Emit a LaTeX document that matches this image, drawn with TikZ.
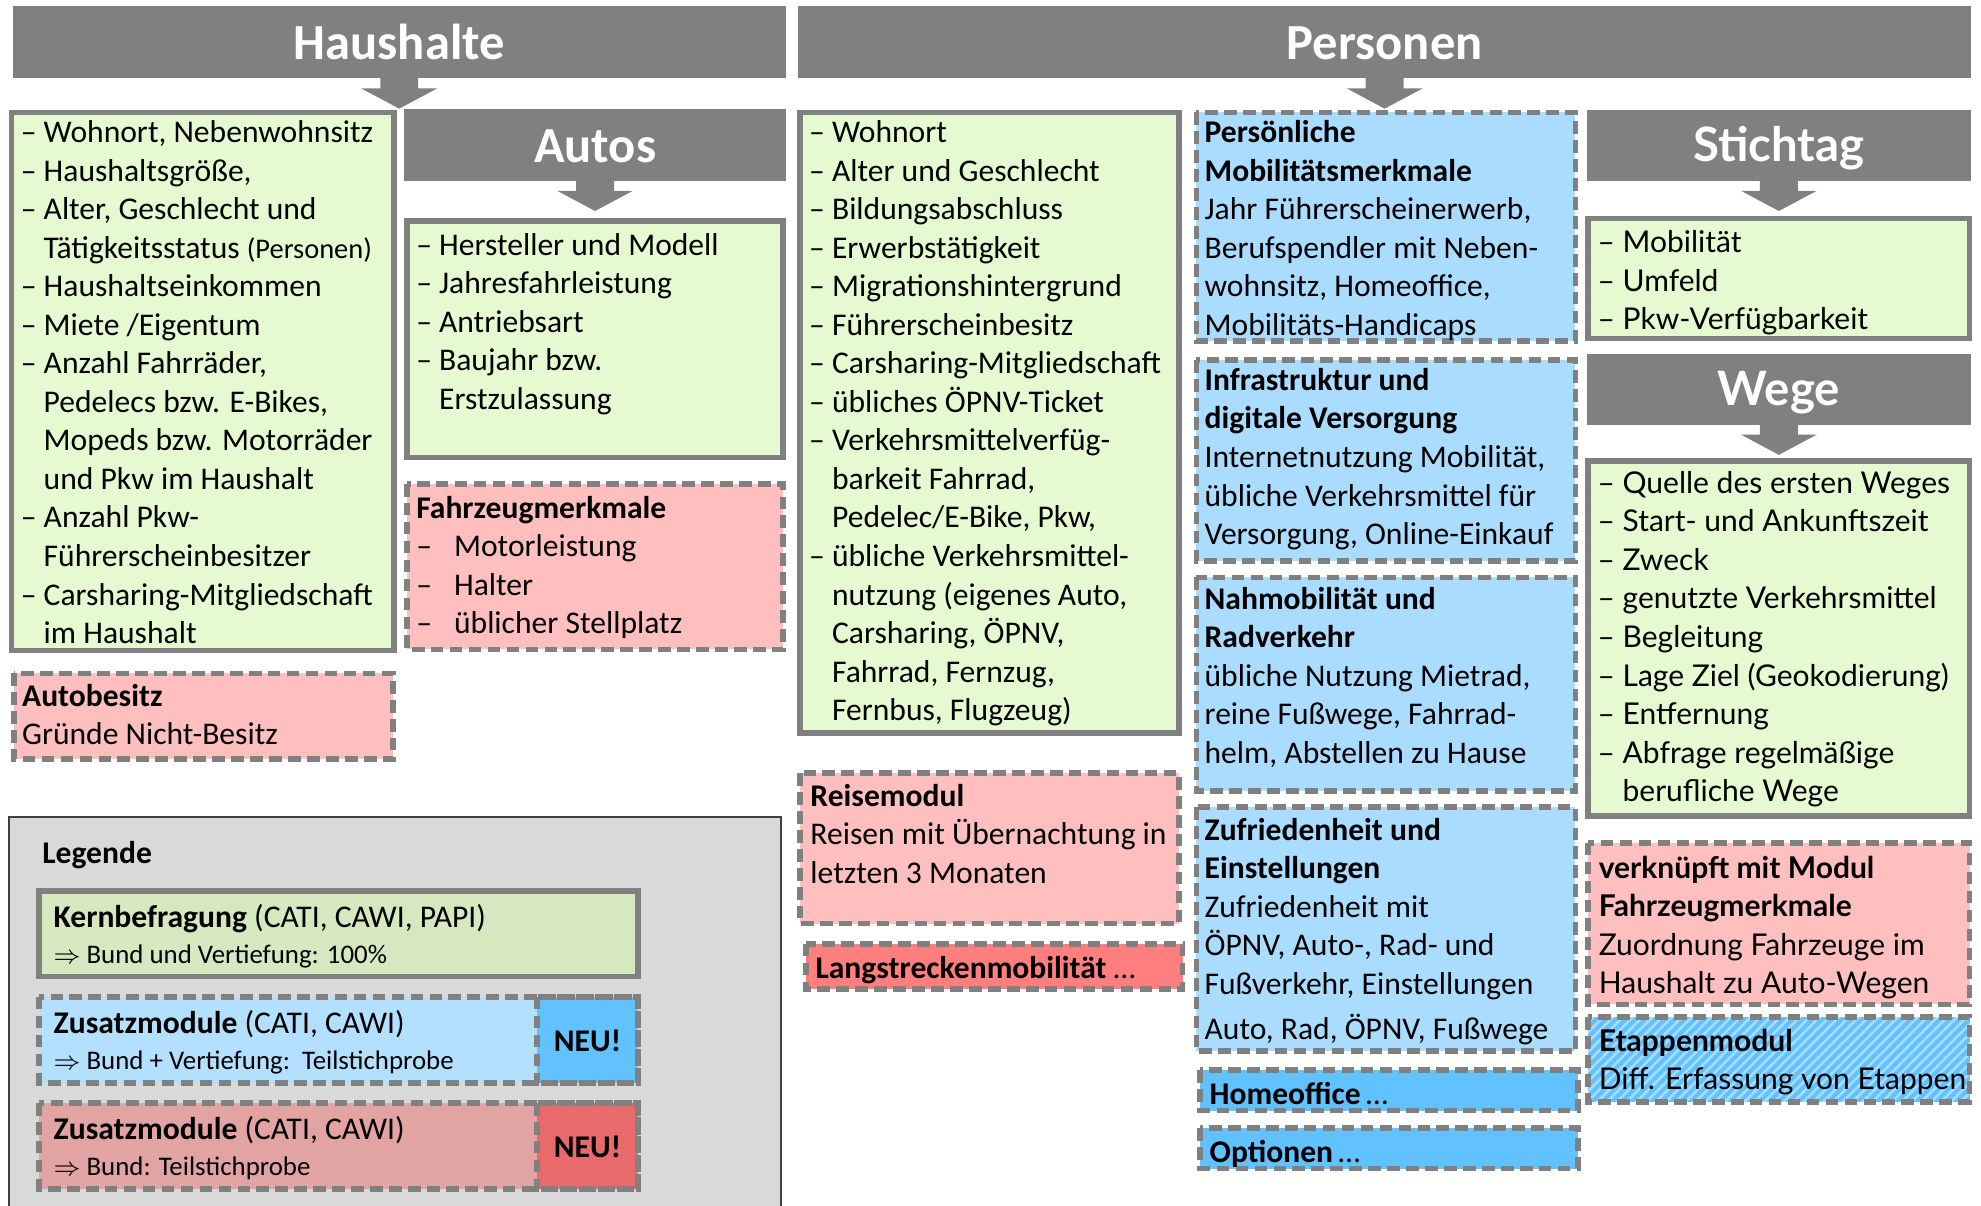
\documentclass[tikz,border=0pt]{standalone}
\usepackage{fontspec}
\setmainfont{Carlito}
\newfontfamily\widefont{Lato}
\usetikzlibrary{patterns.meta}

\definecolor{bargray}{HTML}{808080}
\definecolor{listgreen}{HTML}{E6FAD2}
\definecolor{modpink}{HTML}{FFBFBF}
\definecolor{modblue}{HTML}{AADCFF}
\definecolor{darkblue}{HTML}{61C2FF}
\definecolor{stripeblue}{HTML}{A8DDFF}
\definecolor{langred}{HTML}{FF7F7F}
\definecolor{legendgray}{HTML}{D9D9D9}
\definecolor{kerngreen}{HTML}{D5E8C0}
\definecolor{legblue}{HTML}{B3E0FF}
\definecolor{legred}{HTML}{E2A3A3}
\definecolor{neured}{HTML}{E86A6A}

\newcommand{\itemdash}{\textendash\ }
\newcommand{\itemgap}{\hphantom{\textendash\ }}

\tikzset{
every picture/.style={
x=0.4pt,y=-0.4pt
},
bar/.style={fill=bargray},
listbox/.style={draw=bargray,fill=listgreen,line width=1.8pt},
modbox/.style={draw=bargray,line width=1.8pt,dash pattern=on 4pt off 2pt},
boxtext/.style={anchor=north west,inner sep=0pt,align=left,
  font=\fontsize{10}{12.2}\selectfont,execute at begin node=\strut},
widetext/.style={boxtext,font=\widefont\fontsize{9.5}{12.2}\selectfont},
legtext/.style={boxtext,font=\fontsize{10}{11.2}\selectfont},
headtext/.style={anchor=base,text=white,inner sep=0pt,font=\bfseries\fontsize{16}{18}\selectfont},
blockarrow/.pic={
  \fill[bargray] (-15,-1) -- (15,-1) -- (15,8) -- (30,8) -- (0,24) -- (-30,8) -- (-15,8) -- cycle;
}
}

\begin{document}
\begin{tikzpicture}
  \useasboundingbox (0,0) rectangle (1568,954);

  % Kopfbalken
  \fill[bar] (10,5) rectangle (622,62);
  \fill[bar] (632,5) rectangle (1560,62);
  \fill[bar] (320,86) rectangle (622,143);
  \fill[bar] (1256,87) rectangle (1560,143);
  \fill[bar] (1256,280) rectangle (1560,336);
  \node[headtext] (haushalte) at (316,47) {Haushalte};
  \node[headtext] (personen) at (1096,47) {Personen};
  \node[headtext] (autos) at (471,129) {Autos};
  \node[headtext,font=\widefont\bfseries\fontsize{15}{18}\selectfont] (stichtag) at (1408,128) {Stichtag};
  \node[headtext,font=\widefont\bfseries\fontsize{15}{18}\selectfont] (wege) at (1408,321) {Wege};
  \foreach \cx/\cy in {316/62,1096/62,471/143,1408/143,1408/336}{
    \pic at (\cx,\cy) {blockarrow};
  }

  % Haushalte
  \draw[listbox] (9,89) rectangle (312,515);
  \node[boxtext] (hhlist) at (16,95) {\itemdash Wohnort, Nebenwohnsitz\\
    \itemdash Haushaltsgröße,\\
    \itemdash Alter, Geschlecht und\\
    \itemgap Tätigkeitsstatus {\small(Personen)}\\
    \itemdash Haushaltseinkommen\\
    \itemdash Miete /Eigentum\\
    \itemdash Anzahl Fahrräder,\\
    \itemgap Pedelecs bzw. E-Bikes,\\
    \itemgap Mopeds bzw. Motorräder\\
    \itemgap und Pkw im Haushalt\\
    \itemdash Anzahl Pkw-\\
    \itemgap Führerscheinbesitzer\\
    \itemdash Carsharing-Mitgliedschaft\\
    \itemgap im Haushalt};
  \fill[modpink] (11,533) rectangle (311,601);
  \draw[modbox] (11,533) rectangle (311,601);
  \node[boxtext] (autobesitz) at (17,541) {\textbf{Autobesitz}\\ Gründe Nicht-Besitz};

  % Autos
  \draw[listbox] (322,175) rectangle (620,362);
  \node[boxtext] (autolist) at (329,184) {\itemdash Hersteller und Modell\\
    \itemdash Jahresfahrleistung\\
    \itemdash Antriebsart\\
    \itemdash Baujahr bzw.\\
    \itemgap Erstzulassung};
  \fill[modpink] (322,383) rectangle (620,514);
  \draw[modbox] (322,383) rectangle (620,514);
  \node[boxtext] (fahrzeug) at (329,392) {\textbf{Fahrzeugmerkmale}\\
    \textendash\hspace{0.7em}Motorleistung\\
    \textendash\hspace{0.7em}Halter\\
    \textendash\hspace{0.7em}üblicher Stellplatz};

  % Legende
  \draw[fill=legendgray,draw=black!75,line width=0.6pt] (7,647) rectangle (618,975);
  \node[boxtext,font=\bfseries\fontsize{10}{12.2}\selectfont] (legende) at (33,662) {Legende};
  \draw[listbox,fill=kerngreen] (31,705) rectangle (505,773);
  \node[legtext] (kern) at (42,715.5) {\textbf{Kernbefragung} (CATI, CAWI, PAPI)\\
    {\fontsize{8.5}{10}\selectfont$\Rightarrow$ Bund und Vertiefung: 100\%}};
  \fill[legblue] (31,789) rectangle (505,857);
  \fill[darkblue] (425,789) rectangle (505,857);
  \draw[modbox] (31,789) rectangle (505,857);
  \draw[modbox] (425,789) rectangle (505,857);
  \node[legtext] (zusblue) at (42,799.5) {\textbf{Zusatzmodule} (CATI, CAWI)\\
    {\fontsize{8.5}{10}\selectfont$\Rightarrow$ Bund + Vertiefung:\ \ Teilstichprobe}};
  \node[font=\bfseries] (neublue) at (465,824) {NEU!};
  \fill[legred] (31,873) rectangle (505,941);
  \fill[neured] (425,873) rectangle (505,941);
  \draw[modbox] (31,873) rectangle (505,941);
  \draw[modbox] (425,873) rectangle (505,941);
  \node[legtext] (zusred) at (42,883.5) {\textbf{Zusatzmodule} (CATI, CAWI)\\
    {\fontsize{8.5}{10}\selectfont$\Rightarrow$ Bund: Teilstichprobe}};
  \node[font=\bfseries] (neured) at (465,908) {NEU!};

  % Personen
  \draw[listbox] (633,89) rectangle (933,580);
  \node[boxtext] (perslist) at (640,95) {\itemdash Wohnort\\
    \itemdash Alter und Geschlecht\\
    \itemdash Bildungsabschluss\\
    \itemdash Erwerbstätigkeit\\
    \itemdash Migrationshintergrund\\
    \itemdash Führerscheinbesitz\\
    \itemdash Carsharing-Mitgliedschaft\\
    \itemdash übliches ÖPNV-Ticket\\
    \itemdash Verkehrsmittelverfüg-\\
    \itemgap barkeit Fahrrad,\\
    \itemgap Pedelec/E-Bike, Pkw,\\
    \itemdash übliche Verkehrsmittel-\\
    \itemgap nutzung (eigenes Auto,\\
    \itemgap Carsharing, ÖPNV,\\
    \itemgap Fahrrad, Fernzug,\\
    \itemgap Fernbus, Flugzeug)};
  \fill[modpink] (633,612) rectangle (933,731);
  \draw[modbox] (633,612) rectangle (933,731);
  \node[boxtext] (reise) at (641,620) {\textbf{Reisemodul}\\
    Reisen mit Übernachtung in\\
    letzten 3 Monaten};
  \fill[langred] (638,747) rectangle (936,783);
  \draw[modbox] (638,747) rectangle (936,783);
  \node[boxtext] (langstrecke) at (645,753) {\textbf{Langstreckenmobilität} \dots};

  % Zusatzmodule Personen
  \foreach \ya/\yb in {89/270,285/444,457/626,639/832}{
    \fill[modblue] (947,\ya) rectangle (1247,\yb);
    \draw[modbox] (947,\ya) rectangle (1247,\yb);
  }
  \node[boxtext] (persmob) at (953,95) {\textbf{Persönliche}\\
    \textbf{Mobilitätsmerkmale}\\
    Jahr Führerscheinerwerb,\\
    Berufspendler mit Neben-\\
    wohnsitz, Homeoffice,\\
    Mobilitäts-Handicaps};
  \node[boxtext] (infra) at (953,291) {\textbf{Infrastruktur und}\\
    \textbf{digitale Versorgung}\\
    Internetnutzung Mobilität,\\
    übliche Verkehrsmittel\ für\\
    Versorgung, Online-Einkauf};
  \node[boxtext] (nahmob) at (953,464) {\textbf{Nahmobilität und}\\
    \textbf{Radverkehr}\\
    übliche Nutzung Mietrad,\\
    reine Fußwege, Fahrrad-\\
    helm,\ Abstellen zu Hause};
  \node[boxtext] (zufrieden) at (953,647) {\textbf{Zufriedenheit und}\\
    \textbf{Einstellungen}\\
    Zufriedenheit mit\\
    ÖPNV, Auto-, Rad- und\\
    Fußverkehr, Einstellungen\\[2.2pt]
    Auto, Rad, ÖPNV, Fußwege};
  \foreach \ya/\yb in {847/879,893/925}{
    \fill[darkblue] (950,\ya) rectangle (1249,\yb);
    \draw[modbox] (950,\ya) rectangle (1249,\yb);
  }
  \node[boxtext] (homeoffice) at (957,852) {\textbf{Homeoffice}\,\dots};
  \node[boxtext] (optionen) at (957,898) {\textbf{Optionen}\,\dots};

  % Stichtag und Wege
  \draw[listbox] (1257,173) rectangle (1559,268);
  \node[widetext] (stichlist) at (1264,182) {\itemdash Mobilität\\
    \itemdash Umfeld\\
    \itemdash Pkw-Verfügbarkeit};
  \draw[listbox] (1257,365) rectangle (1559,646);
  \node[widetext] (wegelist) at (1264,372.5) {\itemdash Quelle des ersten Weges\\
    \itemdash Start- und Ankunftszeit\\
    \itemdash Zweck\\
    \itemdash genutzte Verkehrsmittel\\
    \itemdash Begleitung\\
    \itemdash Lage Ziel (Geokodierung)\\
    \itemdash Entfernung\\
    \itemdash Abfrage regelmäßige\\
    \itemgap berufliche Wege};
  \fill[modpink] (1257,667) rectangle (1559,795);
  \draw[modbox] (1257,667) rectangle (1559,795);
  \node[widetext] (verknuepft) at (1265,677) {\textbf{verknüpft mit Modul}\\
    \textbf{Fahrzeugmerkmale}\\
    Zuordnung Fahrzeuge im\\
    Haushalt zu\ Auto-Wegen};
  \fill[darkblue] (1257,805) rectangle (1559,872);
  \fill[pattern={Lines[angle=45,distance=2.2pt,line width=0.8pt]},pattern color=stripeblue] (1257,805) rectangle (1559,872);
  \draw[modbox] (1257,805) rectangle (1559,872);
  \node[widetext] (etappen) at (1265,814) {\textbf{Etappenmodul}\\
    Diff. Erfassung von Etappen};
\end{tikzpicture}
\end{document}
